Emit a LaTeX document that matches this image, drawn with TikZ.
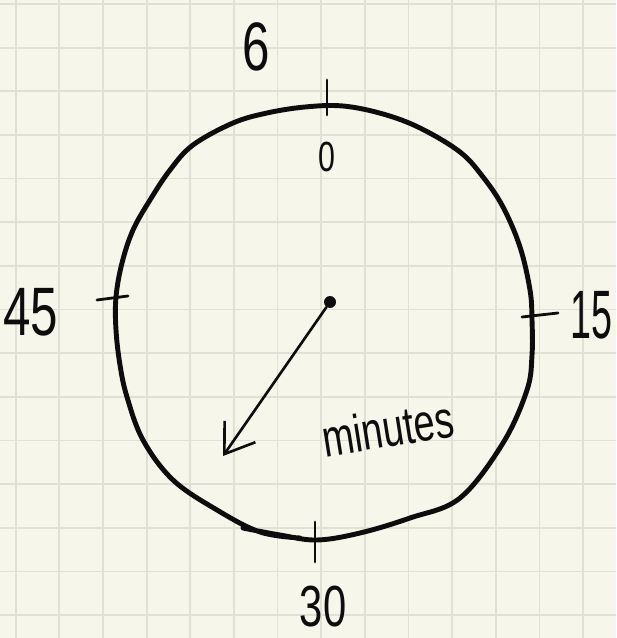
\documentclass[tikz,border=0pt]{standalone}
\usepackage{fontspec}
\usepackage{tikz}
\usetikzlibrary{arrows.meta}
\tikzset{>={Straight Barb[length=5.5mm,width=7.5mm]}}
\usepackage{xcolor}
\newfontfamily\handfont[FakeStretch=0.72]{Liberation Sans}
\newfontfamily\handnarrow[FakeStretch=0.55]{Liberation Sans}
\definecolor{paper}{RGB}{247,246,235}
\definecolor{gridcol}{RGB}{224,224,213}
\colorlet{ink}{black!95}
\tikzset{
    hand/.style={ink, inner sep=0pt},
    tick/.style={ink, line width=1.6pt},
    dot/.style={circle, fill=ink, inner sep=0pt, minimum size=2.4mm}
}

\begin{document}
\begin{tikzpicture}[x=0.02cm, y=-0.02cm, line cap=round, line join=round]
    \begin{scope}
        \clip (0,0) rectangle (616,638);
        \fill[paper] (0,0) rectangle (616,638);

        \foreach \gx in {0,...,13}
        {
            \draw[gridcol, line width=1pt] ({15.7+43.65*\gx}, 0) -- ({15.7+43.65*\gx}, 638);
        }
        \foreach \gy in {0,...,14}
        {
            \draw[gridcol, line width=1pt] (0, {4+43.65*\gy}) -- (616, {4+43.65*\gy});
        }

        \draw[ink, line width=2.8pt] plot[smooth, tension=0.6] coordinates {
            (243,528) (280,535) (317,540) (360,533) (410,518) (460,498) (503,443)
            (527,390) (532,355) (532,320) (530,290) (520,247) (503,207) (483,177)
            (460,152) (420,128) (383,114) (343,106) (305,107) (267,113) (233,123)
            (193,145) (170,170) (150,200) (133,230) (122,263) (116,297) (116,330)
            (120,365) (127,397) (143,440) (173,480) (217,510) (260,532) (300,538)};

        \draw[tick] (327,80) -- (327,115);
        \draw[tick] (97,300) -- (128,296);
        \draw[tick] (522,317) -- (558,313);
        \draw[tick] (315,522) -- (315,562);

        \node[hand, font=\handfont\fontsize{39}{39}\selectfont] (six) at (256,47) {6};
        \node[hand, font=\handfont\fontsize{24}{24}\selectfont] (zero) at (327,157) {0};
        \node[hand, font=\handfont\fontsize{39}{39}\selectfont] (fortyfive) at (31,312) {45};
        \node[hand, font=\handnarrow\fontsize{39}{39}\selectfont, anchor=east] (fifteen) at (613,315) {15};
        \node[hand, font=\handfont\fontsize{33}{33}\selectfont] (thirty) at (323,607) {30};
        \node[hand, font=\handfont\fontsize{30}{30}\selectfont, rotate=9] (minutes) at (388,428) {minutes};

        \node[dot] (hub) at (330,302) {};
        \coordinate (tip) at (223,456);
        \draw[ink, line width=1.5pt, ->] (hub) -- (tip);
    \end{scope}
\end{tikzpicture}
\end{document}
